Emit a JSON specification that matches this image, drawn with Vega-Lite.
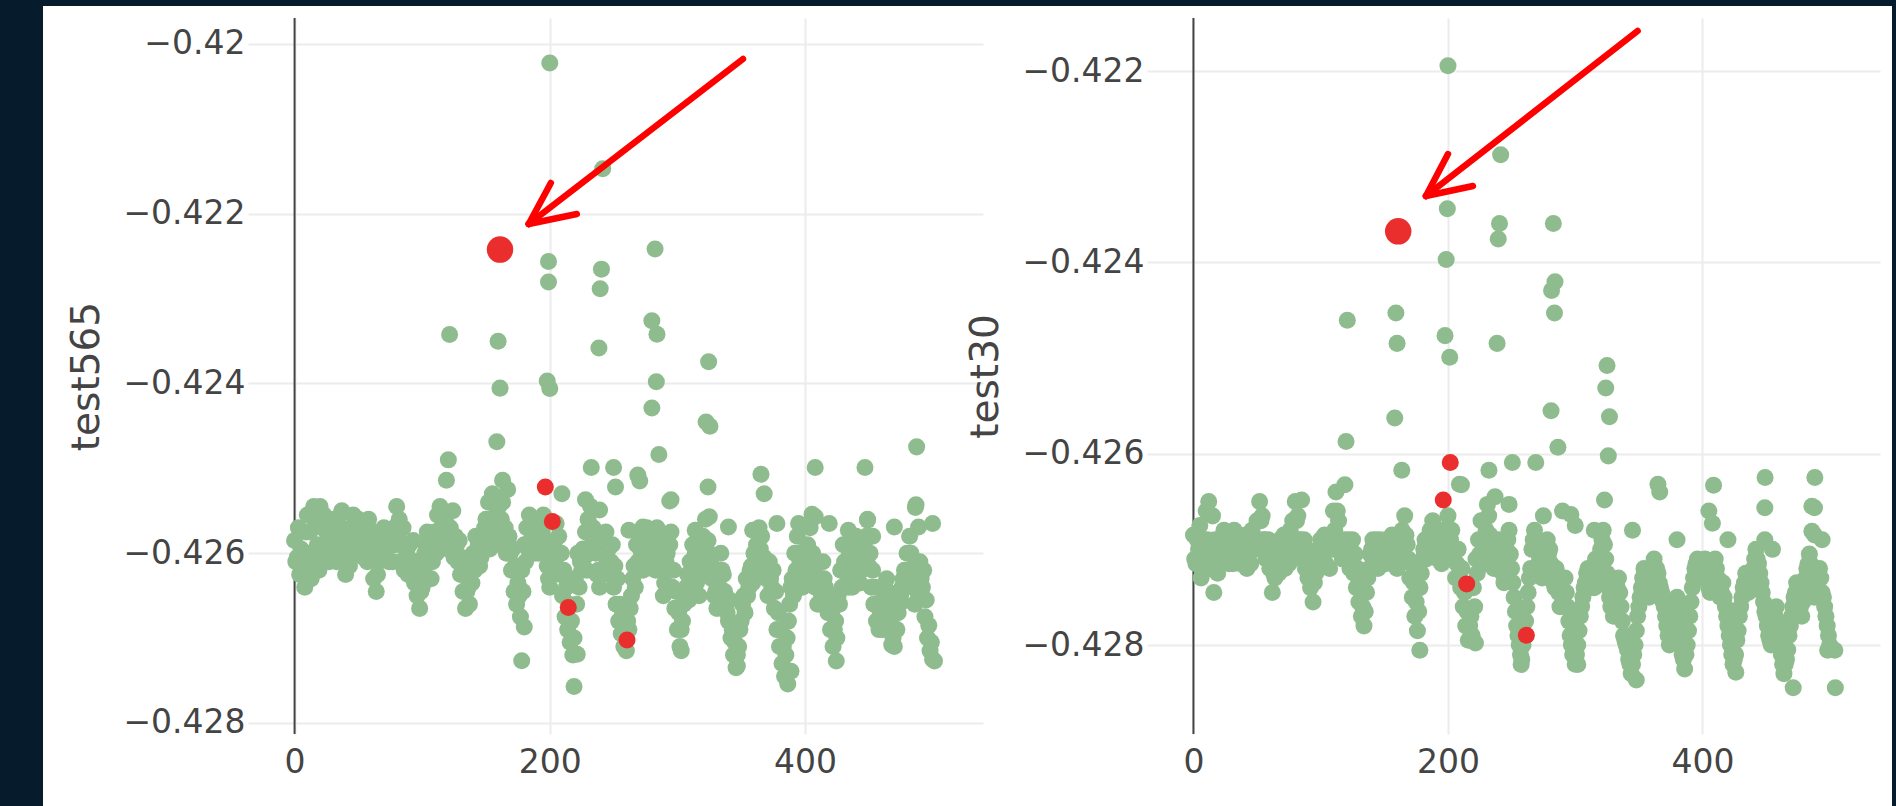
{
"$schema": "https://vega.github.io/schema/vega-lite/v6.json",
"padding": 0,
"background": "white",
"spacing": 0,
"config": {
  "view": {"stroke": null},
  "concat": {"spacing": 0},
  "axis": {"labelFont": "DejaVu Sans", "titleFont": "DejaVu Sans", "labelColor": "#444", "titleColor": "#444", "labelFontSize": 33, "titleFontSize": 39, "titleFontWeight": "normal", "domain": false, "ticks": false, "tickSize": 0, "gridColor": "#ececec", "gridWidth": 2, "labelFlush": false},
  "axisX": {"labelPadding": 12},
  "axisY": {"labelPadding": 3, "titlePadding": 16}
},
"datasets": {
"p1": [
{"x":0,"y":-0.42585},{"x":2,"y":-0.42605},{"x":4,"y":-0.42625},{"x":6,"y":-0.42598},{"x":8,"y":-0.4264},
{"x":10,"y":-0.42555},{"x":12,"y":-0.42575},{"x":14,"y":-0.4261},{"x":16,"y":-0.4256},{"x":18,"y":-0.4259},
{"x":20,"y":-0.42545},{"x":22,"y":-0.4257},{"x":24,"y":-0.426},{"x":26,"y":-0.42585},{"x":28,"y":-0.4256},
{"x":30,"y":-0.4258},{"x":32,"y":-0.42595},{"x":34,"y":-0.4256},{"x":36,"y":-0.42575},{"x":38,"y":-0.4261},
{"x":40,"y":-0.42625},{"x":42,"y":-0.4259},{"x":44,"y":-0.4257},{"x":46,"y":-0.42555},{"x":48,"y":-0.4258},
{"x":50,"y":-0.4256},{"x":52,"y":-0.4259},{"x":54,"y":-0.42605},{"x":56,"y":-0.42585},{"x":58,"y":-0.4256},
{"x":60,"y":-0.426},{"x":62,"y":-0.4263},{"x":64,"y":-0.42645},{"x":66,"y":-0.4261},{"x":68,"y":-0.4258},
{"x":70,"y":-0.4257},{"x":72,"y":-0.42595},{"x":74,"y":-0.4261},{"x":76,"y":-0.4259},{"x":78,"y":-0.4257},
{"x":80,"y":-0.42545},{"x":82,"y":-0.4256},{"x":84,"y":-0.4259},{"x":86,"y":-0.4262},{"x":88,"y":-0.426},
{"x":90,"y":-0.4259},{"x":92,"y":-0.4261},{"x":94,"y":-0.42635},{"x":96,"y":-0.4265},{"x":98,"y":-0.42665},
{"x":100,"y":-0.4264},{"x":102,"y":-0.426},{"x":104,"y":-0.42575},{"x":106,"y":-0.4259},{"x":108,"y":-0.4261},
{"x":110,"y":-0.42575},{"x":112,"y":-0.42555},{"x":114,"y":-0.42545},{"x":116,"y":-0.4256},{"x":118,"y":-0.4259},
{"x":120,"y":-0.42595},{"x":122,"y":-0.4257},{"x":124,"y":-0.4255},{"x":126,"y":-0.4258},{"x":128,"y":-0.4261},
{"x":130,"y":-0.42625},{"x":132,"y":-0.42645},{"x":134,"y":-0.42665},{"x":136,"y":-0.4264},{"x":138,"y":-0.42615},
{"x":140,"y":-0.426},{"x":142,"y":-0.4258},{"x":144,"y":-0.4259},{"x":146,"y":-0.42605},{"x":148,"y":-0.42585},
{"x":150,"y":-0.4256},{"x":152,"y":-0.4254},{"x":154,"y":-0.4256},{"x":156,"y":-0.42575},{"x":158,"y":-0.42555},
{"x":160,"y":-0.42545},{"x":162,"y":-0.4256},{"x":164,"y":-0.42585},{"x":166,"y":-0.426},{"x":168,"y":-0.4258},
{"x":170,"y":-0.4262},{"x":172,"y":-0.42645},{"x":174,"y":-0.4266},{"x":176,"y":-0.4265},{"x":178,"y":-0.4262},
{"x":180,"y":-0.4259},{"x":182,"y":-0.4257},{"x":184,"y":-0.42555},{"x":186,"y":-0.42575},{"x":188,"y":-0.426},
{"x":190,"y":-0.4258},{"x":192,"y":-0.4256},{"x":194,"y":-0.42575},{"x":196,"y":-0.426},{"x":198,"y":-0.42615},
{"x":200,"y":-0.4264},{"x":202,"y":-0.4261},{"x":204,"y":-0.42585},{"x":206,"y":-0.426},{"x":208,"y":-0.42625},
{"x":210,"y":-0.4265},{"x":212,"y":-0.42675},{"x":214,"y":-0.4269},{"x":216,"y":-0.42705},{"x":218,"y":-0.4272},
{"x":220,"y":-0.4263},{"x":222,"y":-0.426},{"x":224,"y":-0.4261},{"x":226,"y":-0.42595},{"x":228,"y":-0.42575},
{"x":230,"y":-0.4256},{"x":232,"y":-0.42545},{"x":234,"y":-0.4257},{"x":236,"y":-0.426},{"x":238,"y":-0.4262},
{"x":240,"y":-0.426},{"x":242,"y":-0.4258},{"x":244,"y":-0.42575},{"x":246,"y":-0.42595},{"x":248,"y":-0.4261},
{"x":250,"y":-0.4264},{"x":252,"y":-0.4266},{"x":254,"y":-0.4268},{"x":256,"y":-0.42695},{"x":258,"y":-0.4271},
{"x":260,"y":-0.42715},{"x":262,"y":-0.4269},{"x":264,"y":-0.4265},{"x":266,"y":-0.42615},{"x":268,"y":-0.4259},
{"x":270,"y":-0.42575},{"x":272,"y":-0.426},{"x":274,"y":-0.4259},{"x":276,"y":-0.4257},{"x":278,"y":-0.4258},
{"x":280,"y":-0.4261},{"x":282,"y":-0.42595},{"x":284,"y":-0.4257},{"x":286,"y":-0.42585},{"x":288,"y":-0.4262},
{"x":290,"y":-0.42635},{"x":292,"y":-0.426},{"x":294,"y":-0.4259},{"x":296,"y":-0.4264},{"x":298,"y":-0.42665},
{"x":300,"y":-0.4269},{"x":302,"y":-0.4271},{"x":304,"y":-0.4268},{"x":306,"y":-0.4265},{"x":308,"y":-0.42625},
{"x":310,"y":-0.4261},{"x":312,"y":-0.4259},{"x":314,"y":-0.426},{"x":316,"y":-0.42625},{"x":318,"y":-0.426},
{"x":320,"y":-0.4258},{"x":322,"y":-0.4256},{"x":324,"y":-0.42585},{"x":326,"y":-0.4261},{"x":328,"y":-0.4263},
{"x":330,"y":-0.42645},{"x":332,"y":-0.4262},{"x":334,"y":-0.426},{"x":336,"y":-0.42625},{"x":338,"y":-0.4266},
{"x":340,"y":-0.4268},{"x":342,"y":-0.427},{"x":344,"y":-0.4272},{"x":346,"y":-0.42735},{"x":348,"y":-0.4271},
{"x":350,"y":-0.4268},{"x":352,"y":-0.4265},{"x":354,"y":-0.4263},{"x":356,"y":-0.4264},{"x":358,"y":-0.42615},
{"x":360,"y":-0.426},{"x":362,"y":-0.4259},{"x":364,"y":-0.4257},{"x":366,"y":-0.4258},{"x":368,"y":-0.42605},
{"x":370,"y":-0.4263},{"x":372,"y":-0.4261},{"x":374,"y":-0.4264},{"x":376,"y":-0.42665},{"x":378,"y":-0.4269},
{"x":380,"y":-0.4271},{"x":382,"y":-0.4273},{"x":384,"y":-0.42745},{"x":386,"y":-0.427},{"x":388,"y":-0.4266},
{"x":390,"y":-0.4263},{"x":392,"y":-0.426},{"x":394,"y":-0.4258},{"x":396,"y":-0.4261},{"x":398,"y":-0.4264},
{"x":400,"y":-0.4262},{"x":402,"y":-0.4259},{"x":404,"y":-0.4257},{"x":406,"y":-0.426},{"x":408,"y":-0.4264},
{"x":410,"y":-0.4266},{"x":412,"y":-0.4263},{"x":414,"y":-0.4261},{"x":416,"y":-0.4264},{"x":418,"y":-0.4267},
{"x":420,"y":-0.4269},{"x":422,"y":-0.4271},{"x":424,"y":-0.4268},{"x":426,"y":-0.4265},{"x":428,"y":-0.4262},
{"x":430,"y":-0.4259},{"x":432,"y":-0.4261},{"x":434,"y":-0.4264},{"x":436,"y":-0.4262},{"x":438,"y":-0.42595},
{"x":440,"y":-0.4258},{"x":442,"y":-0.426},{"x":444,"y":-0.4262},{"x":446,"y":-0.4259},{"x":448,"y":-0.4258},
{"x":450,"y":-0.42615},{"x":452,"y":-0.4264},{"x":454,"y":-0.4266},{"x":456,"y":-0.4268},{"x":458,"y":-0.4269},
{"x":460,"y":-0.4267},{"x":462,"y":-0.4265},{"x":464,"y":-0.4263},{"x":466,"y":-0.4266},{"x":468,"y":-0.4269},
{"x":470,"y":-0.4271},{"x":472,"y":-0.4269},{"x":474,"y":-0.4266},{"x":476,"y":-0.4264},{"x":478,"y":-0.4262},
{"x":480,"y":-0.426},{"x":482,"y":-0.4258},{"x":484,"y":-0.4262},{"x":486,"y":-0.4266},{"x":488,"y":-0.4263},
{"x":490,"y":-0.4261},{"x":492,"y":-0.4264},{"x":494,"y":-0.42675},{"x":496,"y":-0.427},{"x":498,"y":-0.42715},
{"x":500,"y":-0.42725},
{"x":1,"y":-0.4261},{"x":3,"y":-0.4257},{"x":5,"y":-0.42595},{"x":7,"y":-0.4262},{"x":9,"y":-0.42575},
{"x":11,"y":-0.426},{"x":13,"y":-0.4263},{"x":15,"y":-0.42545},{"x":17,"y":-0.426},{"x":19,"y":-0.4262},
{"x":21,"y":-0.42595},{"x":23,"y":-0.42555},{"x":25,"y":-0.42575},{"x":27,"y":-0.4261},{"x":29,"y":-0.4259},
{"x":31,"y":-0.4256},{"x":33,"y":-0.4261},{"x":35,"y":-0.4259},{"x":37,"y":-0.4255},{"x":39,"y":-0.4259},
{"x":41,"y":-0.426},{"x":43,"y":-0.42615},{"x":45,"y":-0.42595},{"x":47,"y":-0.42575},{"x":49,"y":-0.426},
{"x":51,"y":-0.4258},{"x":53,"y":-0.42565},{"x":55,"y":-0.4258},{"x":57,"y":-0.4261},{"x":59,"y":-0.4259},
{"x":61,"y":-0.42575},{"x":63,"y":-0.42605},{"x":65,"y":-0.42625},{"x":67,"y":-0.42595},{"x":69,"y":-0.42605},
{"x":71,"y":-0.426},{"x":73,"y":-0.42575},{"x":75,"y":-0.4259},{"x":77,"y":-0.4261},{"x":79,"y":-0.4259},
{"x":81,"y":-0.4258},{"x":83,"y":-0.4261},{"x":85,"y":-0.4257},{"x":87,"y":-0.4259},{"x":89,"y":-0.42625},
{"x":91,"y":-0.42615},{"x":93,"y":-0.42585},{"x":95,"y":-0.4261},{"x":97,"y":-0.4263},{"x":99,"y":-0.42645},
{"x":101,"y":-0.4262},{"x":103,"y":-0.4259},{"x":105,"y":-0.42605},{"x":107,"y":-0.4263},{"x":109,"y":-0.42595},
{"x":111,"y":-0.426},{"x":113,"y":-0.4258},{"x":115,"y":-0.4257},{"x":117,"y":-0.4259},{"x":119,"y":-0.42565},
{"x":121,"y":-0.4258},{"x":123,"y":-0.42595},{"x":125,"y":-0.42605},{"x":127,"y":-0.4259},{"x":129,"y":-0.42585},
{"x":131,"y":-0.42605},{"x":133,"y":-0.4262},{"x":135,"y":-0.42645},{"x":137,"y":-0.4266},{"x":139,"y":-0.42635},
{"x":141,"y":-0.4262},{"x":143,"y":-0.426},{"x":145,"y":-0.42615},{"x":147,"y":-0.4258},{"x":149,"y":-0.4257},
{"x":151,"y":-0.4258},{"x":153,"y":-0.42595},{"x":155,"y":-0.4253},{"x":157,"y":-0.4259},{"x":159,"y":-0.42575},
{"x":161,"y":-0.4258},{"x":163,"y":-0.4254},{"x":165,"y":-0.4257},{"x":167,"y":-0.42525},{"x":169,"y":-0.426},
{"x":171,"y":-0.42595},{"x":173,"y":-0.42615},{"x":175,"y":-0.42635},{"x":177,"y":-0.42675},{"x":179,"y":-0.42645},
{"x":181,"y":-0.4261},{"x":183,"y":-0.42595},{"x":185,"y":-0.42585},{"x":187,"y":-0.4256},{"x":189,"y":-0.4258},
{"x":191,"y":-0.426},{"x":193,"y":-0.4259},{"x":195,"y":-0.42555},{"x":197,"y":-0.4259},{"x":199,"y":-0.4263},
{"x":201,"y":-0.42595},{"x":203,"y":-0.4262},{"x":205,"y":-0.42605},{"x":207,"y":-0.4258},{"x":209,"y":-0.426},
{"x":211,"y":-0.4262},{"x":213,"y":-0.4264},{"x":215,"y":-0.4266},{"x":217,"y":-0.4268},{"x":219,"y":-0.427},
{"x":221,"y":-0.4266},{"x":223,"y":-0.4264},{"x":225,"y":-0.4262},{"x":227,"y":-0.42605},{"x":229,"y":-0.4262},
{"x":231,"y":-0.426},{"x":233,"y":-0.4258},{"x":235,"y":-0.42595},{"x":237,"y":-0.42625},{"x":239,"y":-0.4264},
{"x":241,"y":-0.4262},{"x":243,"y":-0.426},{"x":245,"y":-0.4261},{"x":247,"y":-0.42625},{"x":249,"y":-0.4259},
{"x":251,"y":-0.42615},{"x":253,"y":-0.4263},{"x":255,"y":-0.4266},{"x":257,"y":-0.4267},{"x":259,"y":-0.4269},
{"x":261,"y":-0.4268},{"x":263,"y":-0.42665},{"x":265,"y":-0.4263},{"x":267,"y":-0.4264},{"x":269,"y":-0.4261},
{"x":271,"y":-0.42595},{"x":273,"y":-0.4262},{"x":275,"y":-0.4261},{"x":277,"y":-0.42595},{"x":279,"y":-0.4261},
{"x":281,"y":-0.42585},{"x":283,"y":-0.4262},{"x":285,"y":-0.42605},{"x":287,"y":-0.426},{"x":289,"y":-0.4265},
{"x":291,"y":-0.4261},{"x":293,"y":-0.4262},{"x":295,"y":-0.42575},{"x":297,"y":-0.4262},{"x":299,"y":-0.42645},
{"x":301,"y":-0.4267},{"x":303,"y":-0.4269},{"x":305,"y":-0.4266},{"x":307,"y":-0.4264},{"x":309,"y":-0.42655},
{"x":311,"y":-0.42635},{"x":313,"y":-0.42615},{"x":315,"y":-0.42635},{"x":317,"y":-0.4265},{"x":319,"y":-0.4262},
{"x":321,"y":-0.42605},{"x":323,"y":-0.42585},{"x":325,"y":-0.426},{"x":327,"y":-0.4263},{"x":329,"y":-0.4265},
{"x":331,"y":-0.42665},{"x":333,"y":-0.4264},{"x":335,"y":-0.4262},{"x":337,"y":-0.42645},{"x":339,"y":-0.4267},
{"x":341,"y":-0.42655},{"x":343,"y":-0.4269},{"x":345,"y":-0.42705},{"x":347,"y":-0.4272},{"x":349,"y":-0.4269},
{"x":351,"y":-0.4266},{"x":353,"y":-0.4267},{"x":355,"y":-0.4265},{"x":357,"y":-0.4262},{"x":359,"y":-0.42635},
{"x":361,"y":-0.4262},{"x":363,"y":-0.4261},{"x":365,"y":-0.42595},{"x":367,"y":-0.4261},{"x":369,"y":-0.42625},
{"x":371,"y":-0.4265},{"x":373,"y":-0.4263},{"x":375,"y":-0.4262},{"x":377,"y":-0.42645},{"x":379,"y":-0.4267},
{"x":381,"y":-0.4269},{"x":383,"y":-0.4271},{"x":385,"y":-0.4272},{"x":387,"y":-0.4268},{"x":389,"y":-0.4264},
{"x":391,"y":-0.4265},{"x":393,"y":-0.4262},{"x":395,"y":-0.426},{"x":397,"y":-0.4263},{"x":399,"y":-0.4262},
{"x":401,"y":-0.426},{"x":403,"y":-0.4261},{"x":405,"y":-0.4263},{"x":407,"y":-0.4262},{"x":409,"y":-0.4261},
{"x":411,"y":-0.4264},{"x":413,"y":-0.4265},{"x":415,"y":-0.4263},{"x":417,"y":-0.42655},{"x":419,"y":-0.4265},
{"x":421,"y":-0.4267},{"x":423,"y":-0.4269},{"x":425,"y":-0.427},{"x":427,"y":-0.4266},{"x":429,"y":-0.4264},
{"x":431,"y":-0.4261},{"x":433,"y":-0.42625},{"x":435,"y":-0.426},{"x":437,"y":-0.4264},{"x":439,"y":-0.42615},
{"x":441,"y":-0.426},{"x":443,"y":-0.42635},{"x":445,"y":-0.42605},{"x":447,"y":-0.426},{"x":449,"y":-0.4256},
{"x":451,"y":-0.426},{"x":453,"y":-0.4262},{"x":455,"y":-0.4264},{"x":457,"y":-0.4266},{"x":459,"y":-0.4267},
{"x":461,"y":-0.4269},{"x":463,"y":-0.42665},{"x":465,"y":-0.42645},{"x":467,"y":-0.42675},{"x":469,"y":-0.427},
{"x":471,"y":-0.4269},{"x":473,"y":-0.4267},{"x":475,"y":-0.4265},{"x":477,"y":-0.4263},{"x":479,"y":-0.4264},
{"x":481,"y":-0.4262},{"x":483,"y":-0.426},{"x":485,"y":-0.4264},{"x":487,"y":-0.4261},{"x":489,"y":-0.4265},
{"x":491,"y":-0.4263},{"x":493,"y":-0.4262},{"x":495,"y":-0.42655},{"x":497,"y":-0.42685},{"x":499,"y":-0.42705},
{"x":228,"y":-0.42537},{"x":239,"y":-0.42549},{"x":273,"y":-0.42569},{"x":295,"y":-0.42537},{"x":314,"y":-0.42573},{"x":325,"y":-0.42557},{"x":359,"y":-0.42573},{"x":378,"y":-0.42565},{"x":408,"y":-0.42557},{"x":419,"y":-0.42565},{"x":449,"y":-0.42561},{"x":453,"y":-0.4258},{"x":489,"y":-0.42569},{"x":487,"y":-0.42543},{"x":205,"y":-0.42565},{"x":262,"y":-0.42573},{"x":340,"y":-0.42569},{"x":395,"y":-0.42565},{"x":434,"y":-0.42573},{"x":470,"y":-0.42569},{"x":500,"y":-0.42565},
{"x":200,"y":-0.420225},{"x":241.5,"y":-0.42147},{"x":199,"y":-0.422562},{"x":199,"y":-0.422804},{"x":240.5,"y":-0.422653},{"x":239.5,"y":-0.422883},{"x":282.5,"y":-0.422416},{"x":121.5,"y":-0.423423},{"x":159.5,"y":-0.423502},{"x":238.5,"y":-0.423581},{"x":280,"y":-0.42326},{"x":284,"y":-0.42342},{"x":324.5,"y":-0.423745},{"x":161,"y":-0.424055},{"x":198,"y":-0.42397},{"x":200,"y":-0.42406},{"x":283.5,"y":-0.42398},{"x":280,"y":-0.42429},{"x":322.5,"y":-0.424455},{"x":325.5,"y":-0.424504},{"x":158.5,"y":-0.424686},{"x":285.5,"y":-0.424838},{"x":487.5,"y":-0.424747},{"x":120.5,"y":-0.4249},{"x":119,"y":-0.425141},{"x":163,"y":-0.425141},{"x":232.5,"y":-0.42499},{"x":250,"y":-0.42499},{"x":269,"y":-0.42508},{"x":270.5,"y":-0.42515},{"x":365.5,"y":-0.42507},{"x":368,"y":-0.4253},{"x":408,"y":-0.42499},{"x":447,"y":-0.42499},{"x":324,"y":-0.42522},{"x":251.5,"y":-0.42522},{"x":209.5,"y":-0.4253},{"x":294,"y":-0.425384},{"x":486.5,"y":-0.42546},{"x":405.5,"y":-0.42554},{"x":178,"y":-0.427266},{"x":180,"y":-0.42687},{"x":219,"y":-0.42757},{"x":221.5,"y":-0.42719},{"x":386.5,"y":-0.42754},{"x":389,"y":-0.42739},{"x":347,"y":-0.42733},{"x":501.5,"y":-0.42727},{"x":303,"y":-0.42715},{"x":424.5,"y":-0.42727},{"x":468,"y":-0.42708}
],
"p1r": [{"x":196.5,"y":-0.42522},{"x":202,"y":-0.425627},{"x":214.5,"y":-0.42664},{"x":260.5,"y":-0.427023}],
"p1b": [{"x":161,"y":-0.422422}],
"p1a": [{"x":351.4,"y":-0.420177,"x2":183.5,"y2":-0.422121},{"x":183.5,"y":-0.422121,"x2":200.8,"y2":-0.421638},{"x":183.5,"y":-0.422121,"x2":221.2,"y2":-0.422003}],
"p2": [
{"x":0,"y":-0.42685},{"x":2,"y":-0.42715},{"x":4,"y":-0.427},{"x":6,"y":-0.4273},{"x":8,"y":-0.4269},
{"x":10,"y":-0.4266},{"x":12,"y":-0.4265},{"x":14,"y":-0.427},{"x":16,"y":-0.42745},{"x":18,"y":-0.4271},
{"x":20,"y":-0.4269},{"x":22,"y":-0.42705},{"x":24,"y":-0.4268},{"x":26,"y":-0.427},{"x":28,"y":-0.42715},
{"x":30,"y":-0.42695},{"x":32,"y":-0.4268},{"x":34,"y":-0.4271},{"x":36,"y":-0.427},{"x":38,"y":-0.4269},
{"x":40,"y":-0.427},{"x":42,"y":-0.4272},{"x":44,"y":-0.42695},{"x":46,"y":-0.4268},{"x":48,"y":-0.427},
{"x":50,"y":-0.4267},{"x":52,"y":-0.4265},{"x":54,"y":-0.42665},{"x":56,"y":-0.4269},{"x":58,"y":-0.42705},
{"x":60,"y":-0.4272},{"x":62,"y":-0.42745},{"x":64,"y":-0.4273},{"x":66,"y":-0.4271},{"x":68,"y":-0.4269},
{"x":70,"y":-0.427},{"x":72,"y":-0.4272},{"x":74,"y":-0.42695},{"x":76,"y":-0.4268},{"x":78,"y":-0.4267},
{"x":80,"y":-0.4265},{"x":82,"y":-0.42665},{"x":84,"y":-0.4269},{"x":86,"y":-0.42705},{"x":88,"y":-0.4272},
{"x":90,"y":-0.4273},{"x":92,"y":-0.4274},{"x":94,"y":-0.42755},{"x":96,"y":-0.42725},{"x":98,"y":-0.427},
{"x":100,"y":-0.4269},{"x":102,"y":-0.427},{"x":104,"y":-0.42715},{"x":106,"y":-0.427},{"x":108,"y":-0.42685},
{"x":110,"y":-0.4266},{"x":112,"y":-0.4264},{"x":114,"y":-0.4267},{"x":116,"y":-0.42695},{"x":118,"y":-0.4271},
{"x":120,"y":-0.427},{"x":122,"y":-0.4269},{"x":124,"y":-0.42705},{"x":126,"y":-0.42725},{"x":128,"y":-0.4274},
{"x":130,"y":-0.42755},{"x":132,"y":-0.4277},{"x":134,"y":-0.4278},{"x":136,"y":-0.42745},{"x":138,"y":-0.4272},
{"x":140,"y":-0.427},{"x":142,"y":-0.42715},{"x":144,"y":-0.4269},{"x":146,"y":-0.4271},{"x":148,"y":-0.42695},
{"x":150,"y":-0.427},{"x":152,"y":-0.4269},{"x":154,"y":-0.42705},{"x":156,"y":-0.42685},{"x":158,"y":-0.427},
{"x":160,"y":-0.4272},{"x":162,"y":-0.427},{"x":164,"y":-0.4268},{"x":166,"y":-0.42665},{"x":168,"y":-0.42695},
{"x":170,"y":-0.4273},{"x":172,"y":-0.4275},{"x":174,"y":-0.4277},{"x":176,"y":-0.42785},{"x":178,"y":-0.4274},
{"x":180,"y":-0.4271},{"x":182,"y":-0.4269},{"x":184,"y":-0.42705},{"x":186,"y":-0.4268},{"x":188,"y":-0.4267},
{"x":190,"y":-0.4269},{"x":192,"y":-0.4271},{"x":194,"y":-0.427},{"x":196,"y":-0.4268},{"x":198,"y":-0.42695},
{"x":200,"y":-0.42665},{"x":202,"y":-0.4269},{"x":204,"y":-0.4271},{"x":206,"y":-0.4273},{"x":208,"y":-0.427},
{"x":210,"y":-0.4274},{"x":212,"y":-0.4276},{"x":214,"y":-0.4278},{"x":216,"y":-0.42795},{"x":218,"y":-0.4277},
{"x":220,"y":-0.4274},{"x":222,"y":-0.4271},{"x":224,"y":-0.4269},{"x":226,"y":-0.4267},{"x":228,"y":-0.427},
{"x":230,"y":-0.4268},{"x":232,"y":-0.42665},{"x":234,"y":-0.4269},{"x":236,"y":-0.4272},{"x":238,"y":-0.427},
{"x":240,"y":-0.4269},{"x":242,"y":-0.4271},{"x":244,"y":-0.42735},{"x":246,"y":-0.427},{"x":248,"y":-0.4268},
{"x":250,"y":-0.4272},{"x":252,"y":-0.4275},{"x":254,"y":-0.4278},{"x":256,"y":-0.428},{"x":258,"y":-0.42815},
{"x":260,"y":-0.4279},{"x":262,"y":-0.4276},{"x":264,"y":-0.4273},{"x":266,"y":-0.427},{"x":268,"y":-0.4268},
{"x":270,"y":-0.4269},{"x":272,"y":-0.4271},{"x":274,"y":-0.4273},{"x":276,"y":-0.42705},{"x":278,"y":-0.4269},
{"x":280,"y":-0.427},{"x":282,"y":-0.4272},{"x":284,"y":-0.4274},{"x":286,"y":-0.4273},{"x":288,"y":-0.4276},
{"x":290,"y":-0.4275},{"x":292,"y":-0.4273},{"x":294,"y":-0.4276},{"x":296,"y":-0.4279},{"x":298,"y":-0.4281},
{"x":300,"y":-0.4282},{"x":302,"y":-0.428},{"x":304,"y":-0.4277},{"x":306,"y":-0.4275},{"x":308,"y":-0.42735},
{"x":310,"y":-0.4272},{"x":312,"y":-0.4274},{"x":314,"y":-0.42725},{"x":316,"y":-0.4271},{"x":318,"y":-0.4273},
{"x":320,"y":-0.427},{"x":322,"y":-0.4268},{"x":324,"y":-0.4271},{"x":326,"y":-0.4274},{"x":328,"y":-0.4276},
{"x":330,"y":-0.4277},{"x":332,"y":-0.4275},{"x":334,"y":-0.4273},{"x":336,"y":-0.4276},{"x":338,"y":-0.4279},
{"x":340,"y":-0.428},{"x":342,"y":-0.42815},{"x":344,"y":-0.4283},{"x":346,"y":-0.4281},{"x":348,"y":-0.42785},
{"x":350,"y":-0.4276},{"x":352,"y":-0.4274},{"x":354,"y":-0.4272},{"x":356,"y":-0.42735},{"x":358,"y":-0.4275},
{"x":360,"y":-0.4273},{"x":362,"y":-0.4271},{"x":364,"y":-0.4272},{"x":366,"y":-0.42735},{"x":368,"y":-0.42745},
{"x":370,"y":-0.4276},{"x":372,"y":-0.4278},{"x":374,"y":-0.428},{"x":376,"y":-0.4279},{"x":378,"y":-0.4277},
{"x":380,"y":-0.4275},{"x":382,"y":-0.4278},{"x":384,"y":-0.4281},{"x":386,"y":-0.42825},{"x":388,"y":-0.428},
{"x":390,"y":-0.4277},{"x":392,"y":-0.4274},{"x":394,"y":-0.4272},{"x":396,"y":-0.4271},{"x":398,"y":-0.4273},
{"x":400,"y":-0.4272},{"x":402,"y":-0.4271},{"x":404,"y":-0.4273},{"x":406,"y":-0.42745},{"x":408,"y":-0.42725},
{"x":410,"y":-0.4271},{"x":412,"y":-0.4273},{"x":414,"y":-0.4275},{"x":416,"y":-0.42735},{"x":418,"y":-0.4276},
{"x":420,"y":-0.4278},{"x":422,"y":-0.428},{"x":424,"y":-0.4282},{"x":426,"y":-0.4281},{"x":428,"y":-0.42785},
{"x":430,"y":-0.4276},{"x":432,"y":-0.4274},{"x":434,"y":-0.42725},{"x":436,"y":-0.42745},{"x":438,"y":-0.42735},
{"x":440,"y":-0.4272},{"x":442,"y":-0.427},{"x":444,"y":-0.42715},{"x":446,"y":-0.42735},{"x":448,"y":-0.42755},
{"x":450,"y":-0.4277},{"x":452,"y":-0.4279},{"x":454,"y":-0.428},{"x":456,"y":-0.4278},{"x":458,"y":-0.4276},
{"x":460,"y":-0.4279},{"x":462,"y":-0.4281},{"x":464,"y":-0.4283},{"x":466,"y":-0.42815},{"x":468,"y":-0.4279},
{"x":470,"y":-0.4277},{"x":472,"y":-0.4275},{"x":474,"y":-0.42735},{"x":476,"y":-0.4275},{"x":478,"y":-0.4277},
{"x":480,"y":-0.4274},{"x":482,"y":-0.4272},{"x":484,"y":-0.42705},{"x":486,"y":-0.4273},{"x":488,"y":-0.4275},
{"x":490,"y":-0.42735},{"x":492,"y":-0.4272},{"x":494,"y":-0.42745},{"x":496,"y":-0.4276},{"x":498,"y":-0.4278},
{"x":500,"y":-0.428},
{"x":1,"y":-0.4271},{"x":3,"y":-0.4269},{"x":5,"y":-0.42675},{"x":7,"y":-0.42705},{"x":9,"y":-0.4272},
{"x":11,"y":-0.4269},{"x":13,"y":-0.4272},{"x":15,"y":-0.42665},{"x":17,"y":-0.4269},{"x":19,"y":-0.42725},
{"x":21,"y":-0.4271},{"x":23,"y":-0.4269},{"x":25,"y":-0.427},{"x":27,"y":-0.42685},{"x":29,"y":-0.427},
{"x":31,"y":-0.42715},{"x":33,"y":-0.427},{"x":35,"y":-0.4269},{"x":37,"y":-0.42715},{"x":39,"y":-0.42705},
{"x":41,"y":-0.42685},{"x":43,"y":-0.42705},{"x":45,"y":-0.42715},{"x":47,"y":-0.427},{"x":49,"y":-0.4269},
{"x":51,"y":-0.4269},{"x":53,"y":-0.4267},{"x":55,"y":-0.4269},{"x":57,"y":-0.4271},{"x":59,"y":-0.4269},
{"x":61,"y":-0.427},{"x":63,"y":-0.42725},{"x":65,"y":-0.42715},{"x":67,"y":-0.42725},{"x":69,"y":-0.42705},
{"x":71,"y":-0.42685},{"x":73,"y":-0.427},{"x":75,"y":-0.42715},{"x":77,"y":-0.427},{"x":79,"y":-0.4269},
{"x":81,"y":-0.4267},{"x":83,"y":-0.4269},{"x":85,"y":-0.4271},{"x":87,"y":-0.4269},{"x":89,"y":-0.427},
{"x":91,"y":-0.42715},{"x":93,"y":-0.42725},{"x":95,"y":-0.42735},{"x":97,"y":-0.4271},{"x":99,"y":-0.4272},
{"x":101,"y":-0.4271},{"x":103,"y":-0.42685},{"x":105,"y":-0.427},{"x":107,"y":-0.4272},{"x":109,"y":-0.427},
{"x":111,"y":-0.4268},{"x":113,"y":-0.4266},{"x":115,"y":-0.4269},{"x":117,"y":-0.4271},{"x":119,"y":-0.4269},
{"x":121,"y":-0.4271},{"x":123,"y":-0.4272},{"x":125,"y":-0.4269},{"x":127,"y":-0.42705},{"x":129,"y":-0.4272},
{"x":131,"y":-0.4274},{"x":133,"y":-0.4276},{"x":135,"y":-0.42765},{"x":137,"y":-0.4273},{"x":139,"y":-0.42705},
{"x":141,"y":-0.4269},{"x":143,"y":-0.427},{"x":145,"y":-0.4272},{"x":147,"y":-0.4269},{"x":149,"y":-0.4271},
{"x":151,"y":-0.42715},{"x":153,"y":-0.427},{"x":155,"y":-0.4269},{"x":157,"y":-0.4271},{"x":159,"y":-0.4269},
{"x":161,"y":-0.42705},{"x":163,"y":-0.4269},{"x":165,"y":-0.427},{"x":167,"y":-0.42685},{"x":169,"y":-0.4271},
{"x":171,"y":-0.42715},{"x":173,"y":-0.42735},{"x":175,"y":-0.42755},{"x":177,"y":-0.42765},{"x":179,"y":-0.42725},
{"x":181,"y":-0.427},{"x":183,"y":-0.4271},{"x":185,"y":-0.4269},{"x":187,"y":-0.427},{"x":189,"y":-0.42685},
{"x":191,"y":-0.427},{"x":193,"y":-0.4269},{"x":195,"y":-0.42715},{"x":197,"y":-0.427},{"x":199,"y":-0.42685},
{"x":201,"y":-0.427},{"x":203,"y":-0.4268},{"x":205,"y":-0.427},{"x":207,"y":-0.42715},{"x":209,"y":-0.42725},
{"x":211,"y":-0.4272},{"x":213,"y":-0.42745},{"x":215,"y":-0.42765},{"x":217,"y":-0.4278},{"x":219,"y":-0.4279},
{"x":221,"y":-0.4276},{"x":223,"y":-0.42725},{"x":225,"y":-0.42705},{"x":227,"y":-0.4269},{"x":229,"y":-0.42715},
{"x":231,"y":-0.427},{"x":233,"y":-0.42685},{"x":235,"y":-0.42705},{"x":237,"y":-0.427},{"x":239,"y":-0.42715},
{"x":241,"y":-0.427},{"x":243,"y":-0.42725},{"x":245,"y":-0.42715},{"x":247,"y":-0.4269},{"x":249,"y":-0.42705},
{"x":251,"y":-0.42735},{"x":253,"y":-0.42765},{"x":255,"y":-0.4279},{"x":257,"y":-0.4281},{"x":259,"y":-0.428},
{"x":261,"y":-0.42775},{"x":263,"y":-0.42745},{"x":265,"y":-0.4272},{"x":267,"y":-0.4269},{"x":269,"y":-0.427},
{"x":271,"y":-0.4272},{"x":273,"y":-0.427},{"x":275,"y":-0.42715},{"x":277,"y":-0.4272},{"x":279,"y":-0.42705},
{"x":281,"y":-0.42715},{"x":283,"y":-0.42735},{"x":285,"y":-0.4272},{"x":287,"y":-0.42745},{"x":289,"y":-0.4274},
{"x":291,"y":-0.4276},{"x":293,"y":-0.42745},{"x":295,"y":-0.42775},{"x":297,"y":-0.428},{"x":299,"y":-0.42795},
{"x":301,"y":-0.4281},{"x":303,"y":-0.42785},{"x":305,"y":-0.4276},{"x":307,"y":-0.4274},{"x":309,"y":-0.42725},
{"x":311,"y":-0.42735},{"x":313,"y":-0.4272},{"x":315,"y":-0.4274},{"x":317,"y":-0.4272},{"x":319,"y":-0.42715},
{"x":321,"y":-0.4269},{"x":323,"y":-0.42695},{"x":325,"y":-0.42725},{"x":327,"y":-0.4275},{"x":329,"y":-0.42745},
{"x":331,"y":-0.4276},{"x":333,"y":-0.4274},{"x":335,"y":-0.42745},{"x":337,"y":-0.42775},{"x":339,"y":-0.42795},
{"x":341,"y":-0.42805},{"x":343,"y":-0.4282},{"x":345,"y":-0.4282},{"x":347,"y":-0.428},{"x":349,"y":-0.4277},
{"x":351,"y":-0.4275},{"x":353,"y":-0.4273},{"x":355,"y":-0.4274},{"x":357,"y":-0.42745},{"x":359,"y":-0.4274},
{"x":361,"y":-0.4272},{"x":363,"y":-0.4273},{"x":365,"y":-0.42725},{"x":367,"y":-0.4274},{"x":369,"y":-0.42755},
{"x":371,"y":-0.4277},{"x":373,"y":-0.4279},{"x":375,"y":-0.42795},{"x":377,"y":-0.4278},{"x":379,"y":-0.4276},
{"x":381,"y":-0.42765},{"x":383,"y":-0.42795},{"x":385,"y":-0.42815},{"x":387,"y":-0.4281},{"x":389,"y":-0.42785},
{"x":391,"y":-0.42755},{"x":393,"y":-0.4273},{"x":395,"y":-0.42715},{"x":397,"y":-0.4272},{"x":399,"y":-0.42725},
{"x":401,"y":-0.42715},{"x":403,"y":-0.4272},{"x":405,"y":-0.4274},{"x":407,"y":-0.42735},{"x":409,"y":-0.4272},
{"x":411,"y":-0.4272},{"x":413,"y":-0.4274},{"x":415,"y":-0.42745},{"x":417,"y":-0.4275},{"x":419,"y":-0.4277},
{"x":421,"y":-0.4279},{"x":423,"y":-0.4281},{"x":425,"y":-0.42815},{"x":427,"y":-0.42795},{"x":429,"y":-0.4277},
{"x":431,"y":-0.4275},{"x":433,"y":-0.42735},{"x":435,"y":-0.42735},{"x":437,"y":-0.4274},{"x":439,"y":-0.42725},
{"x":441,"y":-0.4271},{"x":443,"y":-0.4271},{"x":445,"y":-0.42725},{"x":447,"y":-0.42745},{"x":449,"y":-0.42765},
{"x":451,"y":-0.4278},{"x":453,"y":-0.42795},{"x":455,"y":-0.4279},{"x":457,"y":-0.4277},{"x":459,"y":-0.42775},
{"x":461,"y":-0.428},{"x":463,"y":-0.4282},{"x":465,"y":-0.4282},{"x":467,"y":-0.42805},{"x":469,"y":-0.4278},
{"x":471,"y":-0.4276},{"x":473,"y":-0.42745},{"x":475,"y":-0.4274},{"x":477,"y":-0.4276},{"x":479,"y":-0.42755},
{"x":481,"y":-0.4273},{"x":483,"y":-0.42715},{"x":485,"y":-0.42715},{"x":487,"y":-0.4274},{"x":489,"y":-0.42745},
{"x":491,"y":-0.42725},{"x":493,"y":-0.4273},{"x":495,"y":-0.4275},{"x":497,"y":-0.4277},{"x":499,"y":-0.4279},
{"x":209,"y":-0.42632},{"x":231,"y":-0.42653},{"x":237,"y":-0.42645},{"x":248,"y":-0.42653},{"x":275,"y":-0.42665},{"x":290,"y":-0.4266},{"x":300,"y":-0.42675},{"x":315,"y":-0.4268},{"x":345,"y":-0.4268},{"x":380,"y":-0.4269},{"x":405,"y":-0.4266},{"x":420,"y":-0.4269},{"x":455,"y":-0.427},{"x":486,"y":-0.42655},{"x":494,"y":-0.4269},{"x":486,"y":-0.42681},
{"x":200,"y":-0.421946},{"x":241.4,"y":-0.422876},{"x":199.5,"y":-0.42344},{"x":240.5,"y":-0.423595},{"x":239.5,"y":-0.423756},{"x":282.8,"y":-0.423595},{"x":198.6,"y":-0.423971},{"x":281.4,"y":-0.424294},{"x":284.1,"y":-0.424202},{"x":283.7,"y":-0.42453},{"x":120.9,"y":-0.424605},{"x":159.1,"y":-0.42453},{"x":160,"y":-0.424847},{"x":197.7,"y":-0.424766},{"x":201.4,"y":-0.424992},{"x":238.6,"y":-0.424847},{"x":325,"y":-0.425078},{"x":324,"y":-0.425314},{"x":281,"y":-0.425551},{"x":326.9,"y":-0.425615},{"x":158.2,"y":-0.425626},{"x":119.9,"y":-0.425873},{"x":286.4,"y":-0.425932},{"x":326,"y":-0.426023},{"x":163.7,"y":-0.426174},{"x":232.2,"y":-0.426174},{"x":250.6,"y":-0.426093},{"x":269,"y":-0.426093},{"x":449.2,"y":-0.426249},{"x":488.3,"y":-0.426249},{"x":408.7,"y":-0.42633},{"x":366.4,"y":-0.4264},{"x":365,"y":-0.42632},{"x":119,"y":-0.426324},{"x":210.6,"y":-0.426324},{"x":449,"y":-0.426566},{"x":488,"y":-0.426566},{"x":85,"y":-0.426485},{"x":296.6,"y":-0.426636},{"x":407.8,"y":-0.426727},{"x":323,"y":-0.426485},{"x":177.9,"y":-0.428054},{"x":348,"y":-0.428365},{"x":504.4,"y":-0.428446},{"x":471.3,"y":-0.428446},{"x":498.4,"y":-0.428054},{"x":504,"y":-0.428054},{"x":302,"y":-0.428204},{"x":257.5,"y":-0.428204},{"x":426.2,"y":-0.428285},{"x":221.6,"y":-0.427979},{"x":488,"y":-0.42685},{"x":449,"y":-0.4269}
],
"p2r": [{"x":201.8,"y":-0.426093},{"x":196.3,"y":-0.426485},{"x":214.7,"y":-0.427361},{"x":261.6,"y":-0.427898}],
"p2b": [{"x":160.9,"y":-0.423676}],
"p2a": [{"x":349.0,"y":-0.421582,"x2":182.7,"y2":-0.423307},{"x":182.7,"y":-0.423307,"x2":200.0,"y2":-0.422868},{"x":182.7,"y":-0.423307,"x2":219.6,"y2":-0.423202}]
},
"hconcat": [
  {"width": 43, "height": 806, "data": {"values": [{}]}, "mark": {"type": "point", "size": 0, "opacity": 0}, "encoding": {}, "view": {"fill": "#061b2c", "stroke": null}},
  {"spacing": 11, "vconcat": [
    {"width": 1849, "height": 6, "data": {"values": [{}]}, "mark": {"type": "point", "size": 0, "opacity": 0}, "encoding": {}, "view": {"fill": "#061b2c", "stroke": null}},
    {"spacing": 0, "bounds": "flush", "hconcat": [
      {"width": 205, "height": 716, "data": {"values": [{}]}, "mark": {"type": "point", "size": 0, "opacity": 0}, "encoding": {}},
      {"width": 735, "height": 716, "layer": [
        {"data": {"values": [{"x": 0}]}, "mark": {"type": "rule", "color": "#444", "strokeWidth": 2}, "encoding": {"x": {"field": "x", "type": "quantitative", "title": null}}},
        {"data": {"name": "p1"}, "mark": {"type": "circle", "size": 290, "color": "#8fbc8f", "opacity": 1},
         "encoding": {
           "x": {"field": "x", "type": "quantitative", "title": null, "scale": {"domain": [-36.5, 539.5], "nice": false, "zero": false}, "axis": {"values": [0, 200, 400]}},
           "y": {"field": "y", "type": "quantitative", "title": "test565", "scale": {"domain": [-0.42813, -0.419694], "nice": false, "zero": false}, "axis": {"values": [-0.428, -0.426, -0.424, -0.422, -0.42], "format": ".3~f"}}}},
        {"data": {"name": "p1r"}, "mark": {"type": "circle", "size": 290, "color": "#ea2d2d", "opacity": 1}, "encoding": {"x": {"field": "x", "type": "quantitative"}, "y": {"field": "y", "type": "quantitative"}}},
        {"data": {"name": "p1b"}, "mark": {"type": "circle", "size": 700, "color": "#ea2d2d", "opacity": 1}, "encoding": {"x": {"field": "x", "type": "quantitative"}, "y": {"field": "y", "type": "quantitative"}}},
        {"data": {"name": "p1a"}, "mark": {"type": "rule", "color": "#ff0000", "strokeWidth": 6.5, "strokeCap": "round"}, "encoding": {"x": {"field": "x", "type": "quantitative"}, "y": {"field": "y", "type": "quantitative"}, "x2": {"field": "x2"}, "y2": {"field": "y2"}}}
      ]},
      {"width": 164, "height": 716, "data": {"values": [{}]}, "mark": {"type": "point", "size": 0, "opacity": 0}, "encoding": {}},
      {"width": 733, "height": 716, "layer": [
        {"data": {"values": [{"x": 0}]}, "mark": {"type": "rule", "color": "#444", "strokeWidth": 2}, "encoding": {"x": {"field": "x", "type": "quantitative", "title": null}}},
        {"data": {"name": "p2"}, "mark": {"type": "circle", "size": 290, "color": "#8fbc8f", "opacity": 1},
         "encoding": {
           "x": {"field": "x", "type": "quantitative", "title": null, "scale": {"domain": [-36.5, 539.5], "nice": false, "zero": false}, "axis": {"values": [0, 200, 400]}},
           "y": {"field": "y", "type": "quantitative", "title": "test30", "scale": {"domain": [-0.42893, -0.421446], "nice": false, "zero": false}, "axis": {"values": [-0.428, -0.426, -0.424, -0.422], "format": ".3~f"}}}},
        {"data": {"name": "p2r"}, "mark": {"type": "circle", "size": 290, "color": "#ea2d2d", "opacity": 1}, "encoding": {"x": {"field": "x", "type": "quantitative"}, "y": {"field": "y", "type": "quantitative"}}},
        {"data": {"name": "p2b"}, "mark": {"type": "circle", "size": 700, "color": "#ea2d2d", "opacity": 1}, "encoding": {"x": {"field": "x", "type": "quantitative"}, "y": {"field": "y", "type": "quantitative"}}},
        {"data": {"name": "p2a"}, "mark": {"type": "rule", "color": "#ff0000", "strokeWidth": 6.5, "strokeCap": "round"}, "encoding": {"x": {"field": "x", "type": "quantitative"}, "y": {"field": "y", "type": "quantitative"}, "x2": {"field": "x2"}, "y2": {"field": "y2"}}}
      ]},
      {"width": 12, "height": 716, "data": {"values": [{}]}, "mark": {"type": "point", "size": 0, "opacity": 0}, "encoding": {}}
    ]}
  ]},
  {"width": 4, "height": 806, "data": {"values": [{}]}, "mark": {"type": "point", "size": 0, "opacity": 0}, "encoding": {}, "view": {"fill": "#061b2c", "stroke": null}}
]
}
